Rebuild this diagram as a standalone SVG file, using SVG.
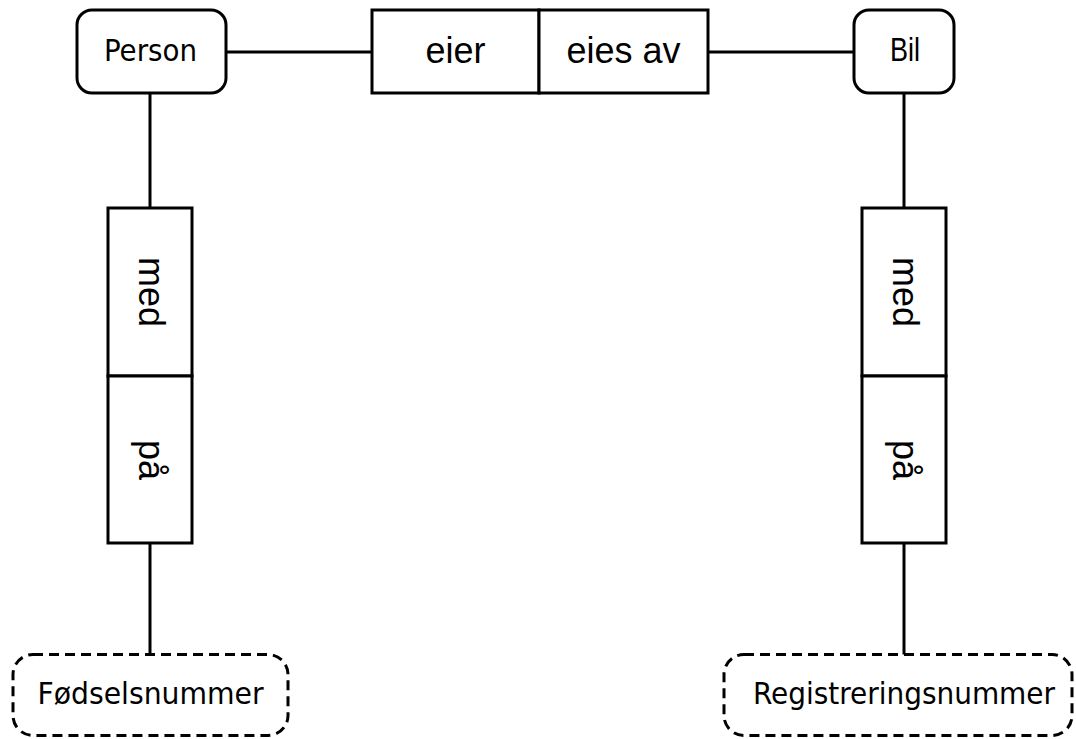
<svg xmlns="http://www.w3.org/2000/svg" width="1076" height="739" viewBox="0 0 1076 739">
<style>
.box{fill:#fff;stroke:#000;stroke-width:3}
.dash{fill:#fff;stroke:#000;stroke-width:3;stroke-dasharray:10 6}
.conn{stroke:#000;stroke-width:3;fill:none}
.t1{font-family:"DejaVu Sans Condensed","DejaVu Sans",sans-serif;font-stretch:condensed;font-size:30px;fill:#000;text-anchor:middle}
.t2{font-family:"Liberation Sans",Arial,sans-serif;font-size:36px;fill:#000;text-anchor:middle}
.t3{font-family:"Liberation Sans Narrow","Liberation Sans",Arial,sans-serif;font-size:33.5px;fill:#000;text-anchor:middle}
</style>
<rect width="1076" height="739" fill="#fff"/>
<g id="connectors">
<line class="conn" x1="226" y1="52" x2="372" y2="52"/>
<line class="conn" x1="708" y1="52" x2="854" y2="52"/>
<line class="conn" x1="150" y1="93" x2="150" y2="208"/>
<line class="conn" x1="150" y1="543" x2="150" y2="655"/>
<line class="conn" x1="904" y1="93" x2="904" y2="208"/>
<line class="conn" x1="904" y1="543" x2="904" y2="655"/>
</g>
<g id="person">
<rect class="box" x="77" y="10" width="149" height="83" rx="15"/>
<text class="t1" x="150.5" y="60.5" textLength="93" lengthAdjust="spacingAndGlyphs">Person</text>
</g>
<g id="eier-eies-av">
<rect class="box" x="372" y="10" width="167" height="83"/>
<rect class="box" x="539" y="10" width="169" height="83"/>
<text class="t2" x="455.5" y="63">eier</text>
<text class="t2" x="623.5" y="63">eies av</text>
</g>
<g id="bil">
<rect class="box" x="854" y="10" width="100" height="83" rx="15"/>
<text class="t3" x="905" y="61" textLength="30" lengthAdjust="spacingAndGlyphs">Bil</text>
</g>
<g id="med-paa-left">
<rect class="box" x="108" y="208" width="84" height="168"/>
<rect class="box" x="108" y="376" width="84" height="167"/>
<text class="t2" transform="translate(150,292) rotate(90)" x="0" y="11">med</text>
<text class="t2" transform="translate(150,460) rotate(90)" x="0" y="11">på</text>
</g>
<g id="med-paa-right">
<rect class="box" x="862" y="208" width="84" height="168"/>
<rect class="box" x="862" y="376" width="84" height="167"/>
<text class="t2" transform="translate(904,292) rotate(90)" x="0" y="11">med</text>
<text class="t2" transform="translate(904,460) rotate(90)" x="0" y="11">på</text>
</g>
<g id="fodselsnummer">
<rect class="dash" x="13" y="654.5" width="275" height="81" rx="20"/>
<text class="t1" x="150.5" y="704" textLength="226" lengthAdjust="spacingAndGlyphs">Fødselsnummer</text>
</g>
<g id="registreringsnummer">
<rect class="dash" x="724" y="654.5" width="348" height="81" rx="20"/>
<text class="t1" x="904" y="704" textLength="302" lengthAdjust="spacingAndGlyphs">Registreringsnummer</text>
</g>
</svg>
